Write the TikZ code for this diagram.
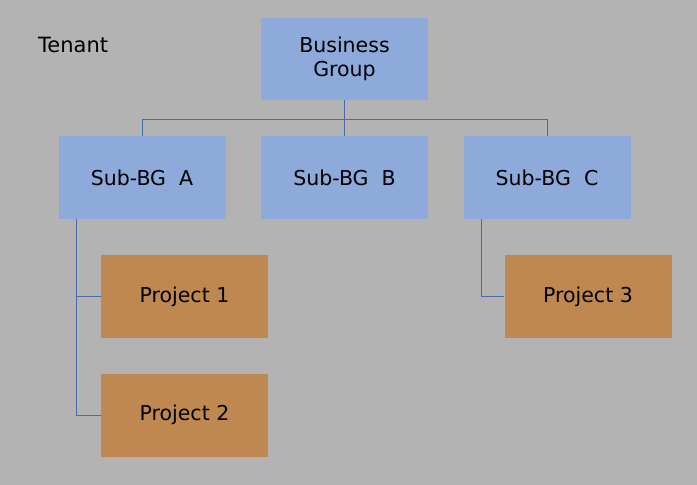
\documentclass[tikz,border=0pt]{standalone}
\usepackage{fontspec}
\setmainfont{DejaVu Sans}
\definecolor{bgc}{HTML}{B3B3B3}
\definecolor{bluebox}{HTML}{8EAADB}
\definecolor{brownbox}{HTML}{C08851}
\definecolor{linec}{HTML}{4A6BAA}
\begin{document}
\begin{tikzpicture}[x=1pt,y=-1pt,
  box/.style={rectangle, minimum width=167pt, minimum height=83pt, inner sep=0pt, align=center, font=\fontsize{20.5}{24}\selectfont},
  sbox/.style={box, fill=bluebox},
  pbox/.style={box, fill=brownbox},
  conn/.style={draw=linec, line width=0.9pt}]
\fill[bgc] (0,0) rectangle (697,485);
\useasboundingbox (0,0) rectangle (697,485);
\node[font=\fontsize{21}{24}\selectfont, anchor=west, inner sep=0pt] (tenant) at (38,45) {Tenant};
\node[sbox, minimum height=82pt] (bg) at (344.5,59) {Business\\Group};
\node[sbox] (a) at (142,177.5) {Sub-BG~ A};
\node[sbox] (b) at (344.5,177.5) {Sub-BG~ B};
\node[sbox] (c) at (547,177.5) {Sub-BG~ C};
\node[pbox] (p1) at (184.5,296.5) {Project 1};
\node[pbox] (p2) at (184.5,415) {Project 2};
\node[pbox] (p3) at (588,296.5) {Project 3};
\coordinate (bus) at (344.5,119.5);
\draw[conn] (bg.south) -- (bus);
\draw[conn] (bus) -- (b.north);
\draw[conn] (a.north) |- (bus) -| (c.north);
\draw[conn] ([xshift=-66pt]a.south) |- (p1.west);
\draw[conn] ([xshift=-66pt]a.south) |- (p2.west);
\draw[conn] ([xshift=-66pt]c.south) |- (p3.west);
\end{tikzpicture}
\end{document}
